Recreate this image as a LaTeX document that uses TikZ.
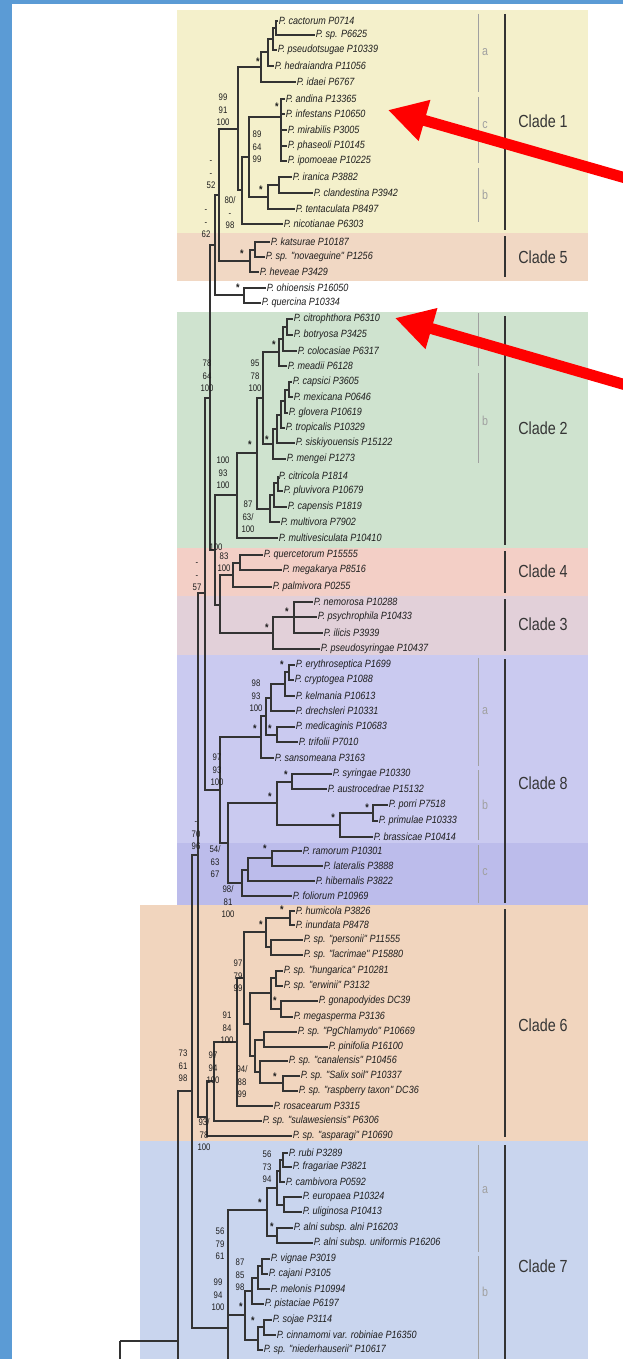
\documentclass[tikz,border=0pt]{standalone}
\usepackage{fontspec}
\setmainfont{Liberation Sans}
\newfontfamily\nf[FakeStretch=0.86]{Liberation Sans}
\newfontfamily\nfs[FakeStretch=0.82]{Liberation Sans}
\usetikzlibrary{arrows.meta}
\definecolor{fr}{HTML}{5B9BD5}
\definecolor{cOne}{HTML}{F4F0CB}
\definecolor{cFive}{HTML}{F1D8C4}
\definecolor{cTwo}{HTML}{CFE3CF}
\definecolor{cFour}{HTML}{F3CFC6}
\definecolor{cThree}{HTML}{E2D0D9}
\definecolor{cEight}{HTML}{CACAF0}
\definecolor{cEightc}{HTML}{BCBCEB}
\definecolor{cSix}{HTML}{F1D5BE}
\definecolor{cSeven}{HTML}{C9D5EE}
\definecolor{lnc}{HTML}{333333}
\definecolor{txc}{HTML}{1E1E1E}
\definecolor{subc}{HTML}{A0A0A0}
\newcommand\LE[2]{\draw[ln] (#1) |- (#2.west);}
\newcommand\NE[2]{\draw[ln] (#1) |- (#2);}
\begin{document}
\begin{tikzpicture}[x=1pt,y=-1pt,
  tx/.style={anchor=west,inner sep=0.6pt,text=txc,font=\nf\itshape\fontsize{10.5}{10.5}\selectfont},
  sp/.style={inner sep=0pt,text=txc,align=center,font=\nfs\fontsize{9.5}{12.5}\selectfont},
  st/.style={inner sep=0pt,text=txc,font=\nfs\bfseries\fontsize{11}{11}\selectfont},
  ln/.style={draw=lnc,line width=1.1pt},
  cl/.style={inner sep=0pt,text=txc!90,font=\nfs\fontsize{17.5}{17.5}\selectfont},
  sub/.style={inner sep=0pt,text=subc,font=\nfs\fontsize{13}{13}\selectfont},
  subline/.style={draw=subc,line width=0.8pt},
  clbar/.style={draw=lnc,line width=2pt},
  redarrow/.style={draw=red,line width=11pt,-{Triangle[length=38pt,width=40pt]}}]
\useasboundingbox (0,0) rectangle (623,1359);
\clip (0,0) rectangle (623,1359);
% frame
\fill[fr] (0,0) rectangle (623,4.5);
\fill[fr] (0,0) rectangle (12,1359);
% clade backgrounds
\fill[cOne] (177,10) rectangle (588,233);
\fill[cFive] (177,233) rectangle (588,281);
\fill[cTwo] (177,312) rectangle (588,548);
\fill[cFour] (177,548) rectangle (588,596);
\fill[cThree] (177,596) rectangle (588,655);
\fill[cEight] (177,655) rectangle (588,843);
\fill[cEightc] (177,843) rectangle (588,905);
\fill[cSix] (140,905) rectangle (588,1141);
\fill[cSeven] (140,1141) rectangle (588,1359);
% subclade lines
\draw[subline] (478,14) -- (478,92);
\draw[subline] (478,97) -- (478,163);
\draw[subline] (478,168) -- (478,222);
\draw[subline] (478,313) -- (478,366);
\draw[subline] (478,373) -- (478,463);
\draw[subline] (478,658) -- (478,766);
\draw[subline] (478,770) -- (478,840);
\draw[subline] (478,845) -- (478,903);
\draw[subline] (478,1145) -- (478,1252);
\draw[subline] (478,1256) -- (478,1359);
\node[sub] (sa1) at (485,52) {a};
\node[sub] (sc1) at (485,125) {c};
\node[sub] (sb1) at (485,195) {b};
\node[sub] (sb2) at (485,421) {b};
\node[sub] (sa8) at (485,711) {a};
\node[sub] (sb8) at (485,805) {b};
\node[sub] (sc8) at (485,872) {c};
\node[sub] (sa7) at (485,1190) {a};
\node[sub] (sb7) at (485,1292) {b};
% clade bars
\draw[clbar] (505,14) -- (505,230);
\draw[clbar] (505,236) -- (505,277);
\draw[clbar] (505,316) -- (505,545);
\draw[clbar] (505,551) -- (505,593);
\draw[clbar] (505,599) -- (505,651);
\draw[clbar] (505,659) -- (505,903);
\draw[clbar] (505,909) -- (505,1137);
\draw[clbar] (505,1145) -- (505,1359);
\node[cl] (C1) at (543,121) {Clade 1};
\node[cl] (C5) at (543,257) {Clade 5};
\node[cl] (C2) at (543,428) {Clade 2};
\node[cl] (C4) at (543,571) {Clade 4};
\node[cl] (C3) at (543,624) {Clade 3};
\node[cl] (C8) at (543,783) {Clade 8};
\node[cl] (C6) at (543,1025) {Clade 6};
\node[cl] (C7) at (543,1266) {Clade 7};
% taxa
\node[tx] (t1) at (278,21) {P. cactorum P0714};
\node[tx] (t2) at (315,35) {P. sp. P6625};
\node[tx] (t3) at (277,50) {P. pseudotsugae P10339};
\node[tx] (t4) at (274,66) {P. hedraiandra P11056};
\node[tx] (t5) at (296,82) {P. idaei P6767};
\node[tx] (t6) at (285,99) {P. andina P13365};
\node[tx] (t7) at (285,114) {P. infestans P10650};
\node[tx] (t8) at (287,130) {P. mirabilis P3005};
\node[tx] (t9) at (287,146) {P. phaseoli P10145};
\node[tx] (t10) at (287,161) {P. ipomoeae P10225};
\node[tx] (t11) at (292,177) {P. iranica P3882};
\node[tx] (t12) at (313,193) {P. clandestina P3942};
\node[tx] (t13) at (295,209) {P. tentaculata P8497};
\node[tx] (t14) at (283,224) {P. nicotianae P6303};
\node[tx] (t15) at (270,242) {P. katsurae P10187};
\node[tx] (t16) at (265,257) {P. sp. "novaeguine" P1256};
\node[tx] (t17) at (259,272) {P. heveae P3429};
\node[tx] (t18) at (266,288) {P. ohioensis P16050};
\node[tx] (t19) at (261,303) {P. quercina P10334};
\node[tx] (t20) at (293,319) {P. citrophthora P6310};
\node[tx] (t21) at (293,335) {P. botryosa P3425};
\node[tx] (t22) at (297,351) {P. colocasiae P6317};
\node[tx] (t23) at (287,366) {P. meadii P6128};
\node[tx] (t24) at (292,382) {P. capsici P3605};
\node[tx] (t25) at (293,397) {P. mexicana P0646};
\node[tx] (t26) at (288,413) {P. glovera P10619};
\node[tx] (t27) at (285,428) {P. tropicalis P10329};
\node[tx] (t28) at (295,443) {P. siskiyouensis P15122};
\node[tx] (t29) at (286,459) {P. mengei P1273};
\node[tx] (t30) at (278,476) {P. citricola P1814};
\node[tx] (t31) at (283,491) {P. pluvivora P10679};
\node[tx] (t32) at (287,507) {P. capensis P1819};
\node[tx] (t33) at (280,522) {P. multivora P7902};
\node[tx] (t34) at (278,538) {P. multivesiculata P10410};
\node[tx] (t35) at (263,555) {P. quercetorum P15555};
\node[tx] (t36) at (282,570) {P. megakarya P8516};
\node[tx] (t37) at (272,587) {P. palmivora P0255};
\node[tx] (t38) at (313,602) {P. nemorosa P10288};
\node[tx] (t39) at (317,617) {P. psychrophila P10433};
\node[tx] (t40) at (323,633) {P. ilicis P3939};
\node[tx] (t41) at (320,649) {P. pseudosyringae P10437};
\node[tx] (t42) at (295,665) {P. erythroseptica P1699};
\node[tx] (t43) at (294,680) {P. cryptogea P1088};
\node[tx] (t44) at (295,696) {P. kelmania P10613};
\node[tx] (t45) at (295,711) {P. drechsleri P10331};
\node[tx] (t46) at (295,727) {P. medicaginis P10683};
\node[tx] (t47) at (298,742) {P. trifolii P7010};
\node[tx] (t48) at (274,758) {P. sansomeana P3163};
\node[tx] (t49) at (332,774) {P. syringae P10330};
\node[tx] (t50) at (327,789) {P. austrocedrae P15132};
\node[tx] (t51) at (388,805) {P. porri P7518};
\node[tx] (t52) at (378,821) {P. primulae P10333};
\node[tx] (t53) at (373,837) {P. brassicae P10414};
\node[tx] (t54) at (302,851) {P. ramorum P10301};
\node[tx] (t55) at (323,866) {P. lateralis P3888};
\node[tx] (t56) at (315,881) {P. hibernalis P3822};
\node[tx] (t57) at (292,896) {P. foliorum P10969};
\node[tx] (t58) at (295,911) {P. humicola P3826};
\node[tx] (t59) at (295,925) {P. inundata P8478};
\node[tx] (t60) at (303,940) {P. sp. "personii" P11555};
\node[tx] (t61) at (303,955) {P. sp. "lacrimae" P15880};
\node[tx] (t62) at (283,971) {P. sp. "hungarica" P10281};
\node[tx] (t63) at (283,986) {P. sp. "erwinii" P3132};
\node[tx] (t64) at (318,1001) {P. gonapodyides DC39};
\node[tx] (t65) at (293,1017) {P. megasperma P3136};
\node[tx] (t66) at (297,1032) {P. sp. "PgChlamydo" P10669};
\node[tx] (t67) at (328,1047) {P. pinifolia P16100};
\node[tx] (t68) at (288,1061) {P. sp. "canalensis" P10456};
\node[tx] (t69) at (300,1076) {P. sp. "Salix soil" P10337};
\node[tx] (t70) at (298,1091) {P. sp. "raspberry taxon" DC36};
\node[tx] (t71) at (273,1106) {P. rosacearum P3315};
\node[tx] (t72) at (262,1121) {P. sp. "sulawesiensis" P6306};
\node[tx] (t73) at (292,1136) {P. sp. "asparagi" P10690};
\node[tx] (t74) at (288,1153) {P. rubi P3289};
\node[tx] (t75) at (292,1167) {P. fragariae P3821};
\node[tx] (t76) at (285,1182) {P. cambivora P0592};
\node[tx] (t77) at (302,1197) {P. europaea P10324};
\node[tx] (t78) at (302,1212) {P. uliginosa P10413};
\node[tx] (t79) at (293,1228) {P. alni subsp. alni P16203};
\node[tx] (t80) at (313,1243) {P. alni subsp. uniformis P16206};
\node[tx] (t81) at (270,1259) {P. vignae P3019};
\node[tx] (t82) at (268,1274) {P. cajani P3105};
\node[tx] (t83) at (270,1289) {P. melonis P10994};
\node[tx] (t84) at (264,1304) {P. pistaciae P6197};
\node[tx] (t85) at (272,1320) {P. sojae P3114};
\node[tx] (t86) at (276,1335) {P. cinnamomi var. robiniae P16350};
\node[tx] (t87) at (263,1350) {P. sp. "niederhauserii" P10617};
% internal nodes
\coordinate (n1a1) at (276,28);
\coordinate (n1a2) at (273,39);
\coordinate (n1a3) at (268,52);
\coordinate (n1a) at (261,67);
\coordinate (n1c) at (281,117);
\coordinate (n1b1) at (279,185);
\coordinate (n1b) at (268,197);
\coordinate (nA) at (249,157);
\coordinate (nX) at (242,190);
\coordinate (nB) at (238,129);
\coordinate (n15) at (219,195);
\coordinate (n5ab) at (255,250);
\coordinate (n5) at (250,261);
\coordinate (noq) at (244,295);
\coordinate (Ntop) at (215,245);
\coordinate (N210) at (210,398);
\coordinate (n2a1) at (287,327);
\coordinate (n2a2) at (283,339);
\coordinate (n2a3) at (279,352);
\coordinate (n2b1) at (289,390);
\coordinate (n2b2) at (285,401);
\coordinate (n2b3) at (281,415);
\coordinate (n2b4) at (277,429);
\coordinate (n2b5) at (273,444);
\coordinate (n2ab) at (263,398);
\coordinate (n2c1) at (278,483);
\coordinate (n2c2) at (274,495);
\coordinate (n2c3) at (270,509);
\coordinate (n2bc) at (257,453);
\coordinate (n2) at (237,495);
\coordinate (n4a) at (240,563);
\coordinate (n4) at (233,575);
\coordinate (n3a) at (294,617);
\coordinate (n3) at (273,633);
\coordinate (n43) at (220,605);
\coordinate (N243) at (215,550);
\coordinate (N205) at (205,593);
\coordinate (n8a1) at (289,672);
\coordinate (n8a2) at (285,684);
\coordinate (n8a3) at (271,698);
\coordinate (n8m) at (277,735);
\coordinate (n8a4) at (266,716);
\coordinate (n8a) at (261,737);
\coordinate (n8b1) at (292,782);
\coordinate (n8b2) at (373,813);
\coordinate (n8b3) at (340,825);
\coordinate (n8b) at (277,803);
\coordinate (n8c1) at (272,858);
\coordinate (n8c2) at (248,870);
\coordinate (n8c) at (242,883);
\coordinate (n8bc) at (228,843);
\coordinate (n8) at (220,790);
\coordinate (N197) at (198,855);
\coordinate (n6a1) at (290,918);
\coordinate (n6a2) at (271,947);
\coordinate (n6a) at (266,932);
\coordinate (n6b) at (276,978);
\coordinate (n6c) at (281,1009);
\coordinate (n6bc) at (271,993);
\coordinate (n6d1) at (264,1040);
\coordinate (n6s) at (283,1083);
\coordinate (n6d2) at (260,1072);
\coordinate (n6d) at (255,1056);
\coordinate (n6bcd) at (250,1024);
\coordinate (n6ab) at (244,978);
\coordinate (n6abr) at (237,1042);
\coordinate (n6abrs) at (214,1081);
\coordinate (n6) at (207,1117);
\coordinate (n7a1) at (283,1160);
\coordinate (n7a2) at (280,1171);
\coordinate (n7a3) at (284,1205);
\coordinate (n7a4) at (277,1188);
\coordinate (n7a5) at (277,1236);
\coordinate (n7a) at (267,1210);
\coordinate (n7b1) at (262,1266);
\coordinate (n7b2) at (258,1278);
\coordinate (n7b3) at (252,1291);
\coordinate (n7b4) at (264,1327);
\coordinate (n7b5) at (258,1340);
\coordinate (n7b) at (245,1315);
\coordinate (n7) at (228,1328);
\coordinate (n7end) at (228,1370);
\coordinate (N185) at (192,1091);
\coordinate (N178) at (178,1341);
\coordinate (N178end) at (178,1370);
\coordinate (root) at (120,1341);
\coordinate (rootend) at (120,1370);
% edges clade 1
\LE{n1a1}{t1}\LE{n1a1}{t2}\NE{n1a2}{n1a1}\LE{n1a2}{t3}
\NE{n1a3}{n1a2}\LE{n1a3}{t4}\NE{n1a}{n1a3}\LE{n1a}{t5}
\LE{n1c}{t6}\LE{n1c}{t7}\LE{n1c}{t8}\LE{n1c}{t9}\LE{n1c}{t10}
\LE{n1b1}{t11}\LE{n1b1}{t12}\NE{n1b}{n1b1}\LE{n1b}{t13}
\NE{nA}{n1c}\NE{nA}{n1b}\NE{nX}{nA}\LE{nX}{t14}
\NE{nB}{n1a}\NE{nB}{nX}\NE{n15}{nB}\NE{n15}{n5}
\LE{n5ab}{t15}\LE{n5ab}{t16}\NE{n5}{n5ab}\LE{n5}{t17}
\LE{noq}{t18}\LE{noq}{t19}\NE{Ntop}{n15}\NE{Ntop}{noq}
\NE{N210}{Ntop}\NE{N210}{N243}
% clade 2
\LE{n2a1}{t20}\LE{n2a1}{t21}\NE{n2a2}{n2a1}\LE{n2a2}{t22}
\NE{n2a3}{n2a2}\LE{n2a3}{t23}
\LE{n2b1}{t24}\LE{n2b1}{t25}\NE{n2b2}{n2b1}\LE{n2b2}{t26}
\NE{n2b3}{n2b2}\LE{n2b3}{t27}\NE{n2b4}{n2b3}\LE{n2b4}{t28}
\NE{n2b5}{n2b4}\LE{n2b5}{t29}\NE{n2ab}{n2a3}\NE{n2ab}{n2b5}
\LE{n2c1}{t30}\LE{n2c1}{t31}\NE{n2c2}{n2c1}\LE{n2c2}{t32}
\NE{n2c3}{n2c2}\LE{n2c3}{t33}\NE{n2bc}{n2ab}\NE{n2bc}{n2c3}
\NE{n2}{n2bc}\LE{n2}{t34}
% clades 4, 3
\LE{n4a}{t35}\LE{n4a}{t36}\NE{n4}{n4a}\LE{n4}{t37}
\LE{n3a}{t38}\LE{n3a}{t39}\LE{n3a}{t40}\NE{n3}{n3a}\LE{n3}{t41}
\NE{n43}{n4}\NE{n43}{n3}\NE{N243}{n2}\NE{N243}{n43}
\NE{N205}{N210}\NE{N205}{n8}
% clade 8
\LE{n8a1}{t42}\LE{n8a1}{t43}\NE{n8a2}{n8a1}\LE{n8a2}{t44}
\NE{n8a3}{n8a2}\LE{n8a3}{t45}\LE{n8m}{t46}\LE{n8m}{t47}
\NE{n8a4}{n8a3}\NE{n8a4}{n8m}\NE{n8a}{n8a4}\LE{n8a}{t48}
\LE{n8b1}{t49}\LE{n8b1}{t50}\LE{n8b2}{t51}\LE{n8b2}{t52}
\NE{n8b3}{n8b2}\LE{n8b3}{t53}\NE{n8b}{n8b1}\NE{n8b}{n8b3}
\LE{n8c1}{t54}\LE{n8c1}{t55}\NE{n8c2}{n8c1}\LE{n8c2}{t56}
\NE{n8c}{n8c2}\LE{n8c}{t57}\NE{n8bc}{n8b}\NE{n8bc}{n8c}
\NE{n8}{n8a}\NE{n8}{n8bc}
\NE{N197}{N205}\NE{N197}{n6}
% clade 6
\LE{n6a1}{t58}\LE{n6a1}{t59}\LE{n6a2}{t60}\LE{n6a2}{t61}
\NE{n6a}{n6a1}\NE{n6a}{n6a2}\LE{n6b}{t62}\LE{n6b}{t63}
\LE{n6c}{t64}\LE{n6c}{t65}\NE{n6bc}{n6b}\NE{n6bc}{n6c}
\LE{n6d1}{t66}\LE{n6d1}{t67}\LE{n6s}{t69}\LE{n6s}{t70}
\LE{n6d2}{t68}\NE{n6d2}{n6s}\NE{n6d}{n6d1}\NE{n6d}{n6d2}
\NE{n6bcd}{n6bc}\NE{n6bcd}{n6d}\NE{n6ab}{n6a}\NE{n6ab}{n6bcd}
\NE{n6abr}{n6ab}\LE{n6abr}{t71}\NE{n6abrs}{n6abr}\LE{n6abrs}{t72}
\NE{n6}{n6abrs}\LE{n6}{t73}
% clade 7
\LE{n7a1}{t74}\LE{n7a1}{t75}\NE{n7a2}{n7a1}\LE{n7a2}{t76}
\LE{n7a3}{t77}\LE{n7a3}{t78}\NE{n7a4}{n7a2}\NE{n7a4}{n7a3}
\LE{n7a5}{t79}\LE{n7a5}{t80}\NE{n7a}{n7a4}\NE{n7a}{n7a5}
\LE{n7b1}{t81}\LE{n7b1}{t82}\NE{n7b2}{n7b1}\LE{n7b2}{t83}
\NE{n7b3}{n7b2}\LE{n7b3}{t84}\LE{n7b4}{t85}\LE{n7b4}{t86}
\NE{n7b5}{n7b4}\LE{n7b5}{t87}\NE{n7b}{n7b3}\NE{n7b}{n7b5}
\NE{n7}{n7a}\NE{n7}{n7b}\draw[ln] (n7) -- (n7end);
\NE{N185}{N197}\NE{N185}{n7}
\NE{N178}{N185}\draw[ln] (N178) -- (N178end);
\NE{root}{N178}\draw[ln] (root) -- (rootend);
% support values
\node[st] (s1) at (258,62) {*};
\node[st] (s2) at (277,107) {*};
\node[st] (s3) at (261,190) {*};
\node[sp] (L1) at (223,110) {99\\91\\100};
\node[sp] (L2) at (257,147) {89\\64\\99};
\node[sp] (L3) at (230,213) {80/\\-\\98};
\node[sp] (L4) at (211,175) {-\\-\\52};
\node[sp] (L5) at (206,224) {-\\-\\62};
\node[st] (s4) at (242,254) {*};
\node[st] (s5) at (238,288) {*};
\node[st] (s6) at (274,345) {*};
\node[sp] (L6) at (207,376) {78\\64\\100};
\node[sp] (L7) at (255,376) {95\\78\\100};
\node[st] (s7) at (267,440) {*};
\node[st] (s8) at (250,445) {*};
\node[sp] (L8) at (223,473) {100\\93\\100};
\node[sp] (L9) at (248,517) {87\\63/\\100};
\node[sp] (L10) at (216,547) {100};
\node[sp] (L11) at (224,562) {83\\100};
\node[sp] (L12) at (197,577) {-\\-\\57};
\node[st] (s9) at (287,612) {*};
\node[st] (s10) at (267,628) {*};
\node[st] (s11) at (282,665) {*};
\node[sp] (L13) at (256,696) {98\\93\\100};
\node[st] (s12) at (255,729) {*};
\node[st] (s13) at (270,729) {*};
\node[sp] (L14) at (217,770) {97\\93\\100};
\node[st] (s14) at (286,775) {*};
\node[st] (s15) at (270,797) {*};
\node[st] (s16) at (367,808) {*};
\node[st] (s17) at (333,818) {*};
\node[st] (s18) at (265,849) {*};
\node[sp] (L15) at (215,862) {54/\\63\\67};
\node[sp] (L16) at (196,836) {-\\70\\96};
\node[sp] (L17) at (228,902) {98/\\81\\100};
\node[st] (s19) at (282,910) {*};
\node[st] (s20) at (261,925) {*};
\node[sp] (L18) at (238,976) {97\\79\\99};
\node[st] (s21) at (275,1001) {*};
\node[sp] (L19) at (227,1028) {91\\84\\100};
\node[sp] (L20) at (183,1066) {73\\61\\98};
\node[sp] (L21) at (213,1068) {97\\94\\100};
\node[sp] (L22) at (242,1082) {94/\\88\\99};
\node[st] (s22) at (275,1077) {*};
\node[sp] (L23) at (204,1135) {93/\\78\\100};
\node[sp] (L24) at (267,1167) {56\\73\\94};
\node[st] (s23) at (260,1203) {*};
\node[st] (s24) at (272,1227) {*};
\node[sp] (L25) at (220,1244) {56\\79\\61};
\node[sp] (L26) at (240,1275) {87\\85\\98};
\node[sp] (L27) at (218,1295) {99\\94\\100};
\node[st] (s25) at (241,1307) {*};
\node[st] (s26) at (253,1321) {*};
% red arrows
\coordinate (a1s) at (650,185);
\coordinate (a1t) at (388,110);
\coordinate (a2s) at (650,392);
\coordinate (a2t) at (395,318);
\draw[redarrow] (a1s) -- (a1t);
\draw[redarrow] (a2s) -- (a2t);
\end{tikzpicture}
\end{document}
